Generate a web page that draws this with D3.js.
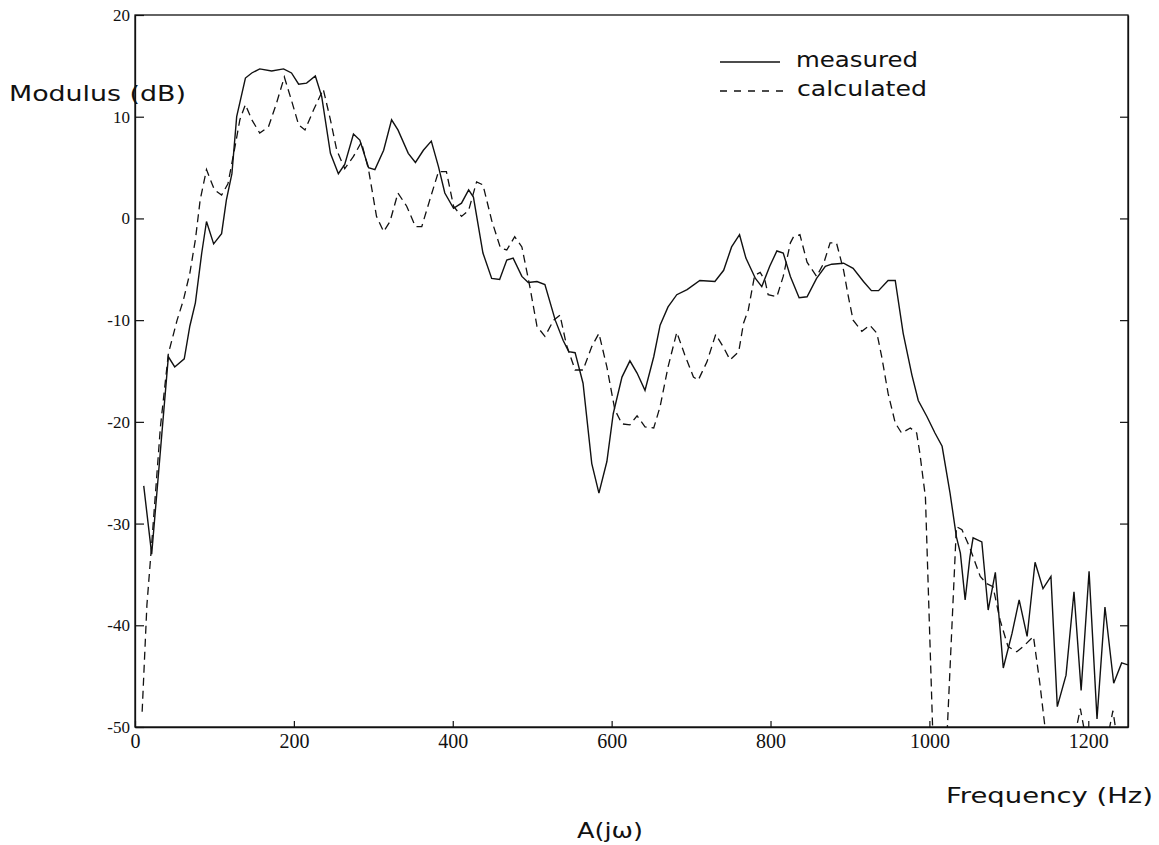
<!DOCTYPE html>
<html>
<head>
<meta charset="utf-8">
<script src="https://cdn.jsdelivr.net/npm/d3@7"></script>
<style>
  body { margin: 0; background: #fff; }
  svg { display: block; }
</style>
</head>
<body>
<svg width="1159" height="845"></svg>
<script>
// measured (solid) curve
var measuredFreq = [11, 21, 42, 50, 62, 69, 76, 84, 90, 99, 109, 115, 122, 128, 139, 147, 157, 172, 187, 197,
  206, 216, 227, 235, 246, 256, 264, 275, 283, 294, 302, 313, 323, 331, 344, 353, 363, 373, 382, 390,
  401, 411, 420, 426, 438, 449, 459, 468, 476, 487, 495, 506, 516, 529, 539, 546, 554, 564, 575, 584,
  594, 602, 613, 623, 632, 642, 653, 661, 671, 682, 695, 711, 730, 741, 751, 761, 769, 781, 789, 799,
  808, 816, 825, 836, 846, 858, 869, 877, 892, 904, 917, 927, 936, 948, 957, 967, 978, 986, 997, 1007,
  1016, 1026, 1034, 1039, 1045, 1051, 1055, 1066, 1074, 1083, 1093, 1104, 1113, 1123, 1133, 1143, 1153, 1161, 1172, 1182,
  1191, 1201, 1211, 1221, 1232, 1242, 1250];
var measuredDb = [-26.3, -33.0, -13.6, -14.6, -13.8, -10.6, -8.3, -3.4, -0.3, -2.5, -1.5, 1.8, 4.4, 10.0, 13.8, 14.3, 14.7, 14.5, 14.7, 14.3,
  13.2, 13.3, 14.0, 12.0, 6.4, 4.4, 5.3, 8.3, 7.7, 5.0, 4.8, 6.7, 9.7, 8.7, 6.4, 5.5, 6.7, 7.6, 5.1, 2.5,
  1.0, 1.5, 2.8, 2.1, -3.4, -5.9, -6.0, -4.1, -3.9, -5.7, -6.3, -6.2, -6.5, -10.0, -12.0, -13.1, -13.2, -16.2, -24.1, -27.0,
  -23.9, -19.2, -15.6, -14.0, -15.2, -16.9, -13.6, -10.5, -8.7, -7.5, -7.0, -6.1, -6.2, -5.1, -2.8, -1.6, -3.9, -5.9, -6.7, -4.7,
  -3.2, -3.4, -5.7, -7.8, -7.7, -5.9, -4.7, -4.5, -4.4, -4.9, -6.2, -7.1, -7.1, -6.1, -6.1, -11.3, -15.4, -17.9, -19.5, -21.1,
  -22.4, -27.0, -31.3, -32.9, -37.5, -33.3, -31.4, -31.8, -38.5, -34.8, -44.2, -40.8, -37.5, -41.1, -33.8, -36.4, -35.2, -48.0, -44.9, -36.7,
  -46.4, -34.7, -49.2, -38.2, -45.7, -43.7, -43.9];

// calculated (dashed) curve
var calculatedFreq = [9, 15, 21, 32, 42, 53, 61, 69, 76, 82, 90, 100, 109, 117, 126, 132, 139, 147, 157, 168,
  178, 188, 197, 206, 214, 225, 237, 246, 254, 264, 275, 285, 294, 304, 313, 321, 331, 342, 353, 361,
  371, 382, 392, 401, 411, 420, 430, 438, 449, 460, 468, 478, 487, 497, 506, 516, 527, 535, 543, 554,
  564, 575, 584, 594, 604, 613, 623, 632, 642, 653, 661, 671, 682, 692, 703, 709, 720, 731, 741, 749,
  760, 766, 772, 780, 787, 793, 797, 808, 816, 825, 829, 837, 846, 858, 867, 875, 883, 892, 898, 904,
  915, 925, 934, 940, 948, 957, 965, 976, 984, 988, 995, 1010, 1014, 1034, 1041, 1051, 1064, 1072, 1080, 1089,
  1099, 1110, 1118, 1131, 1139, 1150, 1165, 1180, 1190, 1199, 1212, 1222, 1231, 1238, 1250];
var calculatedDb = [-48.5, -38.0, -32.0, -20.5, -13.3, -10.0, -8.0, -5.4, -2.1, 1.8, 4.8, 2.8, 2.3, 3.4, 7.1, 9.7, 11.2, 9.7, 8.4, 9.0,
  11.3, 13.9, 11.6, 9.2, 8.7, 10.7, 12.7, 9.7, 6.7, 4.9, 6.1, 7.5, 4.8, 0.2, -1.3, -0.3, 2.5, 1.2, -0.8, -0.8,
  1.8, 4.6, 4.6, 1.2, 0.2, 0.8, 3.6, 3.3, -0.2, -2.9, -3.1, -1.8, -2.8, -6.7, -10.6, -11.6, -10.0, -9.5, -12.4, -14.9,
  -14.9, -12.6, -11.3, -14.6, -18.8, -20.2, -20.3, -19.4, -20.5, -20.6, -18.5, -14.6, -11.2, -13.4, -15.6, -15.9, -14.1, -11.4, -12.7, -13.9,
  -13.1, -10.3, -9.0, -5.6, -5.3, -6.1, -7.5, -7.7, -5.7, -2.4, -1.8, -1.6, -4.3, -5.7, -4.4, -2.4, -2.4, -5.1, -7.7, -10.0,
  -11.1, -10.5, -11.3, -13.6, -17.2, -20.1, -21.1, -20.6, -21.1, -23.1, -27.4, -65, -65, -30.3, -30.6, -32.4, -35.2, -35.9, -36.2, -39.5,
  -42.1, -42.6, -42.1, -41.1, -45.7, -53, -60, -52, -48.2, -52, -58, -52, -48.4, -52, -56];

var xTicks = [0, 200, 400, 600, 800, 1000, 1200];
var yTicks = [20, 10, 0, -10, -20, -30, -40, -50];

var svg = d3.select("svg");
var plotLeft = 135, plotRight = 1128, plotTop = 15, plotBottom = 727;

var x = d3.scaleLinear().domain([0, 1250]).range([plotLeft, plotRight]);
var y = d3.scaleLinear().domain([-50, 20]).range([plotBottom, plotTop]);

svg.append("clipPath").attr("id", "plotclip")
  .append("rect")
  .attr("x", plotLeft).attr("y", plotTop)
  .attr("width", plotRight - plotLeft).attr("height", plotBottom - plotTop);

// frame
svg.append("rect")
  .attr("x", plotLeft).attr("y", plotTop)
  .attr("width", plotRight - plotLeft).attr("height", plotBottom - plotTop)
  .style("fill", "none")
  .style("stroke", "#111")
  .style("stroke-width", 1.3);

// left axis, ticks point inward, plain hyphen for minus
var yAxis = svg.append("g")
  .attr("transform", "translate(" + plotLeft + ",0)")
  .call(d3.axisLeft(y).tickValues(yTicks).tickFormat(function (d) { return String(d); })
    .tickSize(-9).tickSizeOuter(0).tickPadding(5));
yAxis.selectAll("text")
  .style("font-family", "'Liberation Serif', serif")
  .style("font-size", "17px")
  .style("fill", "#111");

// right axis ticks
svg.append("g")
  .attr("transform", "translate(" + plotRight + ",0)")
  .call(d3.axisRight(y).tickValues([10, 0, -10, -20, -30, -40]).tickSize(-8).tickSizeOuter(0).tickFormat(""));

// bottom axis
var xAxis = svg.append("g")
  .attr("transform", "translate(0," + plotBottom + ")")
  .call(d3.axisBottom(x).tickValues(xTicks).tickFormat(d3.format("d"))
    .tickSize(-6).tickSizeOuter(0).tickPadding(7));
xAxis.selectAll("text")
  .style("font-family", "'Liberation Serif', serif")
  .style("font-size", "20px")
  .style("fill", "#111");

svg.selectAll(".domain").style("stroke", "#111").style("stroke-width", 1.3);
svg.selectAll(".tick line").style("stroke", "#111").style("stroke-width", 1.2);

// curves
var line = d3.line()
  .x(function (d) { return x(d[0]); })
  .y(function (d) { return y(d[1]); });

var plot = svg.append("g").attr("clip-path", "url(#plotclip)");

plot.append("path")
  .datum(measuredFreq.map(function (f, i) { return [f, measuredDb[i]]; }))
  .attr("d", line)
  .style("fill", "none")
  .style("stroke", "#111")
  .style("stroke-width", 1.4);

plot.append("path")
  .datum(calculatedFreq.map(function (f, i) { return [f, calculatedDb[i]]; }))
  .attr("d", line)
  .style("fill", "none")
  .style("stroke", "#111")
  .style("stroke-width", 1.3)
  .style("stroke-dasharray", "8,5");

// legend
var labelFont = "'DejaVu Sans', sans-serif";
function label(tx, ty, len, str) {
  return svg.append("text")
    .attr("x", tx).attr("y", ty)
    .attr("textLength", len)
    .attr("lengthAdjust", "spacingAndGlyphs")
    .style("font-family", labelFont).style("font-size", "21px").style("fill", "#111")
    .text(str);
}

svg.append("line")
  .attr("x1", 720).attr("x2", 780).attr("y1", 62).attr("y2", 62)
  .style("stroke", "#111").style("stroke-width", 1.5);
label(796, 67, 122, "measured");
svg.append("line")
  .attr("x1", 720).attr("x2", 787).attr("y1", 91).attr("y2", 91)
  .style("stroke", "#111").style("stroke-width", 1.5)
  .style("stroke-dasharray", "7,7");
label(797, 96, 130, "calculated");

// axis titles
label(9, 101, 177, "Modulus (dB)");
label(946, 803, 207, "Frequency (Hz)");
label(577, 838, 66, "A(jω)");
</script>
</body>
</html>
